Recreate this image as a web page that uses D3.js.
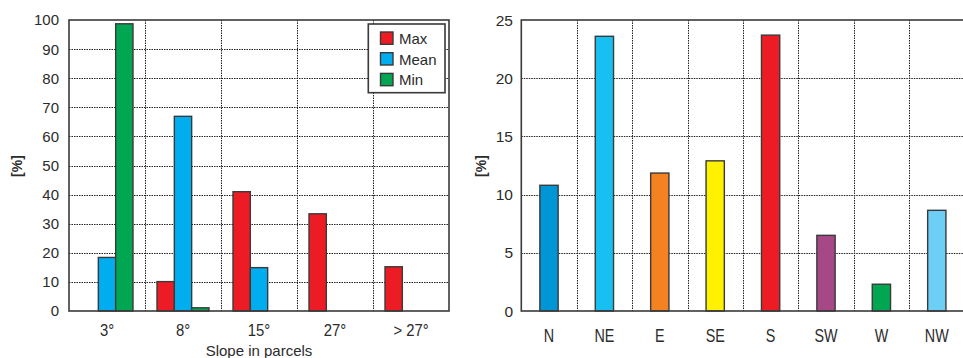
<!DOCTYPE html>
<html>
<head>
<meta charset="utf-8">
<script src="https://cdn.jsdelivr.net/npm/d3@7"></script>
<style>
  html, body { margin: 0; padding: 0; background: #fff; }
  svg { display: block; font-family: "Liberation Sans", Arial, sans-serif; }
</style>
</head>
<body>
<svg id="chart" width="963" height="358"></svg>
<script>
// ---- Left chart data: slope classes ----
const slopeCategories = ["3°", "8°", "15°", "27°", "> 27°"];
const slopeSeries = ["Max", "Mean", "Min"];
const slopeMax  = [0, 10.1, 41, 33.4, 15.2];
const slopeMean = [18.4, 66.9, 14.9, 0, 0];
const slopeMin  = [98.7, 1.1, 0, 0, 0];
const slopeTicks = [0, 10, 20, 30, 40, 50, 60, 70, 80, 90, 100];
const slopeColors = ["#ed1c24", "#00aeef", "#00a651"];

// ---- Right chart data: aspect ----
const aspectCategories = ["N", "NE", "E", "SE", "S", "SW", "W", "NW"];
const aspectValues = [10.8, 23.6, 11.85, 12.9, 23.7, 6.5, 2.3, 8.65];
const aspectTicks = [0, 5, 10, 15, 20, 25];
const aspectColors = ["#0096d6", "#16c0f0", "#f58220", "#fff200", "#ed1c24", "#a64886", "#00a651", "#6dcff6"];

const svg = d3.select("#chart");
const frameColor = "#3a3a3a";
const gridColor = "#222";
const textColor = "#2b2b2b";
const snap = v => Math.round(v) + 0.5;

function drawPanel(opts) {
  const { left, right, top, bottom, categories, ticks, yMax, tickFont, tickRight, xLabelFont, xLabelScaleX, xLabelBaseline } = opts;
  const g = svg.append("g");
  const x = d3.scaleBand().domain(categories).range([left, right]).padding(0);
  const y = d3.scaleLinear().domain([0, yMax]).range([bottom, top]);

  // horizontal grid
  g.selectAll(".hgrid").data(ticks.filter(t => t > 0 && t < yMax)).join("line")
    .attr("x1", left).attr("x2", right)
    .attr("y1", d => snap(y(d))).attr("y2", d => snap(y(d)))
    .attr("stroke", gridColor).attr("stroke-width", 1)
    .attr("stroke-dasharray", "1.5,1");
  // vertical grid at category boundaries
  g.selectAll(".vgrid").data(categories.slice(1)).join("line")
    .attr("x1", d => snap(x(d))).attr("x2", d => snap(x(d)))
    .attr("y1", top).attr("y2", bottom)
    .attr("stroke", gridColor).attr("stroke-width", 1)
    .attr("stroke-dasharray", "1.5,1");

  // y tick labels
  g.selectAll(".ytick").data(ticks).join("text")
    .attr("x", tickRight).attr("y", d => y(d)).attr("dy", "0.36em")
    .attr("text-anchor", "end").attr("font-size", tickFont).attr("fill", textColor)
    .text(d => d);
  // x tick labels
  g.selectAll(".xtick").data(categories).join("text")
    .attr("transform", d => `translate(${x(d) + x.bandwidth() / 2},${xLabelBaseline}) scale(${xLabelScaleX},1)`)
    .attr("text-anchor", "middle").attr("font-size", xLabelFont).attr("fill", textColor)
    .text(d => d);
  return { g, x, y };
}

// ---------- Left panel ----------
const L = { left: 69, right: 449, top: 20, bottom: 311 };
const lp = drawPanel({ ...L, categories: slopeCategories, ticks: slopeTicks, yMax: 100,
  tickFont: "15px", tickRight: 59, xLabelFont: "16.5px", xLabelScaleX: 0.9, xLabelBaseline: 335.5 });

const slopeRows = slopeCategories.map((c, i) => ({ cat: c, values: [slopeMax[i], slopeMean[i], slopeMin[i]] }));
const x1 = d3.scaleBand().domain(slopeSeries)
  .range([lp.x.bandwidth() * 0.158, lp.x.bandwidth() * 0.842]).padding(0);

const groups = lp.g.append("g").selectAll("g").data(slopeRows).join("g")
  .attr("transform", d => `translate(${lp.x(d.cat)},0)`);
groups.selectAll("rect").data(d => d.values.map((v, j) => ({ s: slopeSeries[j], v, j })).filter(e => e.v > 0))
  .join("rect")
  .attr("x", e => x1(e.s)).attr("width", x1.bandwidth())
  .attr("y", e => lp.y(e.v)).attr("height", e => lp.y(0) - lp.y(e.v))
  .attr("fill", e => slopeColors[e.j]).attr("stroke", frameColor).attr("stroke-width", 1.4);

// frame
lp.g.append("rect").attr("x", L.left).attr("y", L.top)
  .attr("width", L.right - L.left).attr("height", L.bottom - L.top)
  .attr("fill", "none").attr("stroke", frameColor).attr("stroke-width", 1.6);

// legend
const leg = lp.g.append("g");
leg.append("rect").attr("x", 368.3).attr("y", 24).attr("width", 76.7).attr("height", 68.7)
  .attr("fill", "#fff").attr("stroke", frameColor).attr("stroke-width", 1.6);
slopeSeries.forEach((s, i) => {
  const yy = 32 + i * 20.7;
  leg.append("rect").attr("x", 380.5).attr("y", yy).attr("width", 12.5).attr("height", 12.3)
    .attr("fill", slopeColors[i]).attr("stroke", frameColor).attr("stroke-width", 1.4);
  leg.append("text").attr("x", 399).attr("y", yy + 11.8).attr("font-size", "15px").attr("fill", textColor).text(s);
});

// axis titles
svg.append("text").attr("transform", "translate(21.5,166) rotate(-90)")
  .attr("text-anchor", "middle").attr("font-size", "14px").attr("font-weight", "bold").attr("fill", textColor)
  .text("[%]");
svg.append("text").attr("x", 259).attr("y", 356).attr("text-anchor", "middle")
  .attr("font-size", "15px").attr("fill", textColor).text("Slope in parcels");

// ---------- Right panel ----------
const R = { left: 521.3, right: 964.5, top: 20, bottom: 311 };
const rp = drawPanel({ ...R, categories: aspectCategories, ticks: aspectTicks, yMax: 25,
  tickFont: "15.5px", tickRight: 513, xLabelFont: "17.5px", xLabelScaleX: 0.82, xLabelBaseline: 341.8 });

rp.g.append("g").selectAll("rect").data(aspectCategories.map((c, i) => ({ c, v: aspectValues[i], col: aspectColors[i] })))
  .join("rect")
  .attr("x", d => rp.x(d.c) + rp.x.bandwidth() * 0.335).attr("width", rp.x.bandwidth() * 0.33)
  .attr("y", d => rp.y(d.v)).attr("height", d => rp.y(0) - rp.y(d.v))
  .attr("fill", d => d.col).attr("stroke", frameColor).attr("stroke-width", 1.4);

rp.g.append("rect").attr("x", R.left).attr("y", R.top)
  .attr("width", R.right - R.left).attr("height", R.bottom - R.top)
  .attr("fill", "none").attr("stroke", frameColor).attr("stroke-width", 1.6);

svg.append("text").attr("transform", "translate(486,166) rotate(-90)")
  .attr("text-anchor", "middle").attr("font-size", "14px").attr("font-weight", "bold").attr("fill", textColor)
  .text("[%]");
</script>
</body>
</html>
